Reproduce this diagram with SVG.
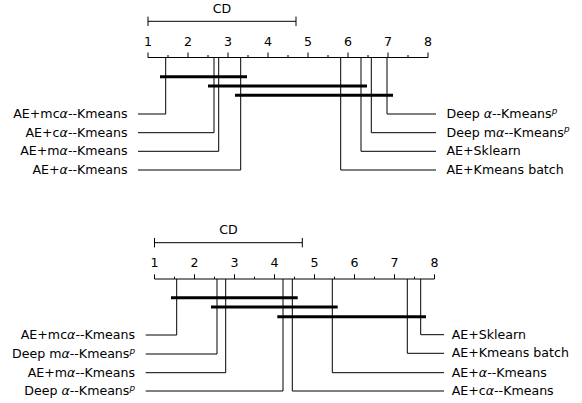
<svg xmlns="http://www.w3.org/2000/svg" width="582" height="403" viewBox="0 0 582 403">
<style>
text{font-family:"DejaVu Sans","Liberation Sans",sans-serif;font-size:12.6px;fill:#000}
.tl{text-anchor:middle}
.l{text-anchor:end}
.ln{stroke:#000;stroke-width:1;fill:none}
.bar{stroke:#000;stroke-width:3}
.it{font-style:italic}
.sup{font-style:italic;font-size:8.8px}
</style>
<rect width="582" height="403" fill="#fff"/>
<g id="axis-top" class="ln">
<path d="M148,21.3H296M148,16.6V26M296,16.6V26"/>
<path d="M148,57.5H428M148,52.5V57.5M168,55V57.5M188,52.5V57.5M208,55V57.5M228,52.5V57.5M248,55V57.5M268,52.5V57.5M288,55V57.5M308,52.5V57.5M328,55V57.5M348,52.5V57.5M368,55V57.5M388,52.5V57.5M408,55V57.5M428,52.5V57.5"/>
</g>
<g id="axis-top-labels">
<text class="tl" x="222" y="13.3">CD</text>
<text class="tl" x="148" y="46">1</text><text class="tl" x="188" y="46">2</text><text class="tl" x="228" y="46">3</text><text class="tl" x="268" y="46">4</text><text class="tl" x="308" y="46">5</text><text class="tl" x="348" y="46">6</text><text class="tl" x="388" y="46">7</text><text class="tl" x="428" y="46">8</text>
</g>
<g id="bars-top">
<line class="bar" x1="160" y1="76.7" x2="247" y2="76.7"/>
<line class="bar" x1="208" y1="86" x2="367" y2="86"/>
<line class="bar" x1="235" y1="95.3" x2="393" y2="95.3"/>
</g>
<g id="connectors" class="ln">
<path d="M165.7,57.5V114H138"/>
<path d="M214,57.5V132.7H138"/>
<path d="M218.7,57.5V151.3H138"/>
<path d="M240.7,57.5V170H138"/>
<path d="M387,57.5V114H436"/>
<path d="M371.3,57.5V132.7H436"/>
<path d="M361,57.5V151.3H436"/>
<path d="M340.7,57.5V170H436"/>
<path d="M176.7,279V335H145.7"/>
<path d="M217,279V354H145.7"/>
<path d="M225.7,279V372.7H145.7"/>
<path d="M283,279V391H145.7"/>
<path d="M420.7,279V334.7H444"/>
<path d="M407.3,279V353.3H444"/>
<path d="M332.3,279V372.7H444"/>
<path d="M292.3,279V391H444"/>
</g>
<g id="t-ae-mca"><text class="l" x="127.5" y="118">AE+mc<tspan class="it">α</tspan>--Kmeans</text></g>
<g id="t-ae-ca"><text class="l" x="127.5" y="136.7">AE+c<tspan class="it">α</tspan>--Kmeans</text></g>
<g id="t-ae-ma"><text class="l" x="127.5" y="155.3">AE+m<tspan class="it">α</tspan>--Kmeans</text></g>
<g id="t-ae-a"><text class="l" x="127.5" y="174">AE+<tspan class="it">α</tspan>--Kmeans</text></g>
<g id="t-deep-a"><text x="446.5" y="118">Deep <tspan class="it">α</tspan>--Kmeans<tspan class="sup" dy="-4.5">p</tspan></text></g>
<g id="t-deep-ma"><text x="446.5" y="136.7">Deep m<tspan class="it">α</tspan>--Kmeans<tspan class="sup" dy="-4.5">p</tspan></text></g>
<g id="t-ae-sk"><text x="446.5" y="155.3">AE+Sklearn</text></g>
<g id="t-ae-kb"><text x="446.5" y="174">AE+Kmeans batch</text></g>

<g id="axis-bottom" class="ln">
<path d="M154.5,242.7H302.3M154.5,238V247.4M302.3,238V247.4"/>
<path d="M154.5,279H434.5M154.5,274.3V279M174.5,276.7V279M194.5,274.3V279M214.5,276.7V279M234.5,274.3V279M254.5,276.7V279M274.5,274.3V279M294.5,276.7V279M314.5,274.3V279M334.5,276.7V279M354.5,274.3V279M374.5,276.7V279M394.5,274.3V279M414.5,276.7V279M434.5,274.3V279"/>
</g>
<g id="axis-bottom-labels">
<text class="tl" x="228.4" y="234">CD</text>
<text class="tl" x="154.5" y="266.7">1</text><text class="tl" x="194.5" y="266.7">2</text><text class="tl" x="234.5" y="266.7">3</text><text class="tl" x="274.5" y="266.7">4</text><text class="tl" x="314.5" y="266.7">5</text><text class="tl" x="354.5" y="266.7">6</text><text class="tl" x="394.5" y="266.7">7</text><text class="tl" x="434.5" y="266.7">8</text>
</g>
<g id="bars-bottom">
<line class="bar" x1="171" y1="297.7" x2="297.7" y2="297.7"/>
<line class="bar" x1="211" y1="307" x2="337.7" y2="307"/>
<line class="bar" x1="277.3" y1="316.7" x2="426" y2="316.7"/>
</g>
<g id="b-ae-mca"><text class="l" x="135" y="339">AE+mc<tspan class="it">α</tspan>--Kmeans</text></g>
<g id="b-deep-ma"><text class="l" x="135" y="358">Deep m<tspan class="it">α</tspan>--Kmeans<tspan class="sup" dy="-4.5">p</tspan></text></g>
<g id="b-ae-ma"><text class="l" x="135" y="376.7">AE+m<tspan class="it">α</tspan>--Kmeans</text></g>
<g id="b-deep-a"><text class="l" x="135" y="395">Deep <tspan class="it">α</tspan>--Kmeans<tspan class="sup" dy="-4.5">p</tspan></text></g>
<g id="b-ae-sk"><text x="451.7" y="338.7">AE+Sklearn</text></g>
<g id="b-ae-kb"><text x="451.7" y="357.3">AE+Kmeans batch</text></g>
<g id="b-ae-a"><text x="451.7" y="376.7">AE+<tspan class="it">α</tspan>--Kmeans</text></g>
<g id="b-ae-ca"><text x="451.7" y="395">AE+c<tspan class="it">α</tspan>--Kmeans</text></g>
</svg>
